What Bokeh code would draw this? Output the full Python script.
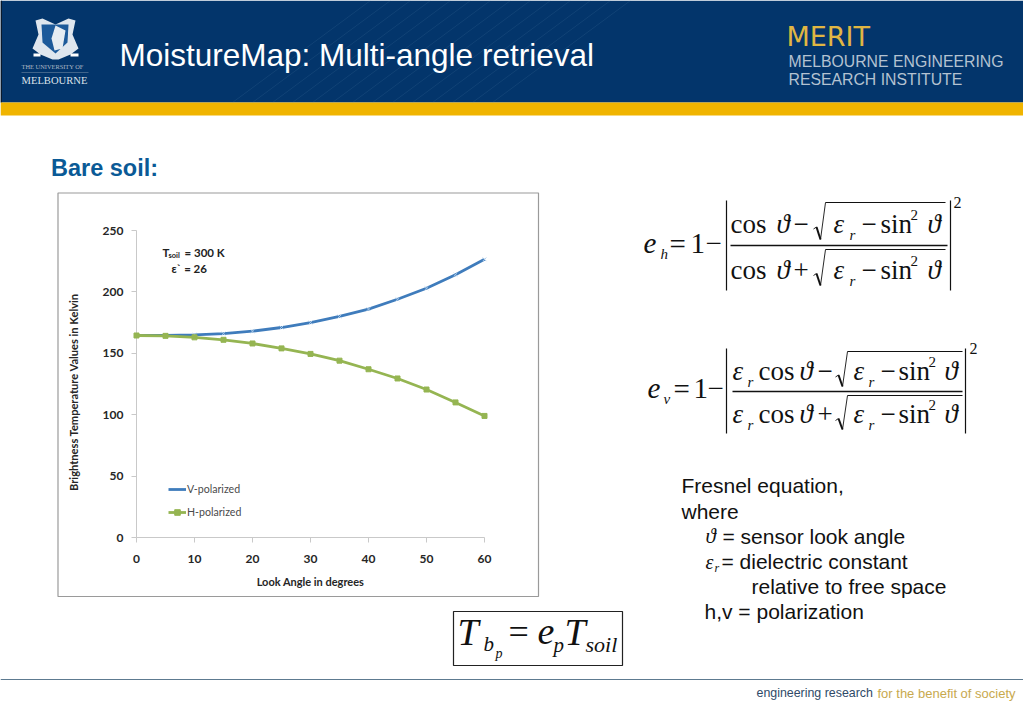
from bokeh.plotting import figure
from bokeh.embed import file_html
from bokeh.resources import INLINE
from bokeh.core.properties import value
from bokeh.models import Label, Range1d, Legend, LegendItem, FixedTicker

angles = [0, 5, 10, 15, 20, 25, 30, 35, 40, 45, 50, 55, 60]
v_pol = [164.5, 164.5, 165, 166, 168, 171, 175, 180, 186, 194, 203, 214, 226.5]
h_pol = [164.5, 164.2, 163, 161, 158, 154, 149.5, 144, 137, 129.5, 120.5, 110, 99]
x_ticks = [0, 10, 20, 30, 40, 50, 60]
y_ticks = [0, 50, 100, 150, 200, 250]
x_title = "Look Angle in degrees"
y_title = "Brightness Temperature Values in Kelvin"
slide_title = "MoistureMap: Multi-angle retrieval"

W, H = 1023, 708
RISE = 0.34   # the page draws text this fraction of its size below the requested line

# ---------- the slide behind the chart: a full-window figure in pixel coordinates
bg = figure(width=W, height=H, output_backend="svg", toolbar_location=None,
            x_range=Range1d(0, W), y_range=Range1d(H, 0), x_axis_type=None, y_axis_type=None,
            min_border=0, background_fill_color="white", border_fill_color="white",
            outline_line_color=None)
bg.grid.visible = False
bg.styles = {"position": "absolute", "left": "0px", "top": "0px"}


def box(x0, y0, x1, y1, fill=None, line=None, lw=1):
    bg.quad(left=[x0], right=[x1], top=[y0], bottom=[y1], fill_color=fill, fill_alpha=1 if fill else 0,
            line_color=line, line_width=lw)


def poly(xs, ys, fill, alpha=1.0):
    bg.patch(xs, ys, fill_color=fill, fill_alpha=alpha, line_color=None)


def seg(x0, y0, x1, y1, w=1.0, color="#111111", alpha=1.0):
    bg.line([x0, x1], [y0, y1], line_color=color, line_width=w, line_alpha=alpha)


def txt(s, x, y, size, color="#111111", font="Liberation Sans", style="normal", angle=0, align="left"):
    yy = y - RISE * size if angle == 0 else y
    bg.text([x], [yy], text=[s], text_font=value(font), text_font_size=value(f"{size}px"),
            text_font_style=style, text_color=color, text_align=align, text_baseline="alphabetic",
            angle=angle)


box(0, 0, W, 102, fill="#03356b")
box(0, 0, 1.5, 102, fill="#0b1a2c")
box(0, 102, W, 115, fill="#f0b400")
for k in range(14):
    seg(232 + k * 20, 102, 370 + k * 20, 0, 1, "#5f86ad", 0.16)
box(0, 678.6, W, 679.6, fill="#5d7a90")

# crest
poly([35, 42, 55, 68, 75, 72, 78, 70, 58, 52, 40, 32, 38],
     [20, 18, 24, 18, 20, 34, 48, 54, 59, 59, 54, 48, 34], "#dfe6ee")
poly([41, 68, 67, 55, 42], [24, 24, 42, 53, 42], "#1d5a9a")
poly([55, 65, 62, 54, 51], [25, 30, 48, 50, 38], "#e6ecf2")
box(33, 53, 40, 56, fill="#ffffff")
box(70, 53, 78, 56, fill="#ffffff")
txt("THE UNIVERSITY OF", 21, 68, 6.4, "#aeb9c6", "Liberation Serif")
box(21, 72, 88, 72.6, fill="#7f93aa")
txt("MELBOURNE", 21, 84, 10.6, "#dbe2ea", "Liberation Serif")

txt(slide_title, 119, 65, 31.5, "#ffffff")
txt("MERIT", 786, 45, 27, "#e0b643", "DejaVu Sans")
txt("MELBOURNE ENGINEERING", 788, 66, 15.8, "#b4c2d1")
txt("RESEARCH INSTITUTE", 788, 84.5, 15.8, "#b4c2d1")

txt("Bare soil:", 50.5, 175, 23.5, "#0a5a96", style="bold")

box(57.5, 192.5, 538, 596, line="#9a9a9a", lw=1.2)
txt(y_title, 73, 490.5, 11.1, "#262626", "Lato", "bold", angle=1.5708)

SERIF = "Liberation Serif"


def sym(s, x, y, size=27, style="normal"):
    txt(s, x, y, size, "#111111", SERIF, style)


def radical(x, top, bottom, xend):
    mid = (top + bottom) / 2 + 6
    seg(x, mid + 2, x + 3, mid, 0.9)
    seg(x + 3, mid, x + 7, bottom, 2)
    seg(x + 7, bottom, x + 12, top, 0.9)
    seg(x + 12, top, xend, top, 1)


# e_h
sym("e", 643, 253, 29, "italic")
sym("h", 660, 259, 15, "italic")
sym("=", 669, 253, 29)
sym("1", 690, 253, 29)
sym("−", 705, 253, 29)
seg(726, 200, 726, 290, 1.2)
seg(950, 200, 950, 290, 1.2)
sym("2", 953, 207, 16)
for base, op, top in ((233, "−", 202), (279, "+", 249)):
    sym("cos", 730, base)
    sym("ϑ", 776, base, 27, "italic")
    sym(op, 793, base)
    radical(813, top, base + 6, 945)
    sym("ε", 833, base, 27, "italic")
    sym("r", 849, base + 7, 15, "italic")
    sym("−", 861, base)
    sym("sin", 880, base)
    sym("2", 910, base - 13, 15)
    sym("ϑ", 927, base, 27, "italic")
seg(730, 245, 947, 245, 1.4)

# e_v
sym("e", 647, 398, 29, "italic")
sym("v", 663, 404, 15, "italic")
sym("=", 673, 398, 29)
sym("1", 693, 398, 29)
sym("−", 707, 398, 29)
seg(726, 348, 726, 433, 1.2)
seg(965, 348, 965, 433, 1.2)
sym("2", 969, 353, 16)
for base, op, top in ((380, "−", 351), (423, "+", 395)):
    sym("ε", 732, base, 27, "italic")
    sym("r", 747, base + 7, 15, "italic")
    sym("cos", 758, base)
    sym("ϑ", 799, base, 27, "italic")
    sym(op, 817, base)
    radical(835, top, base + 6, 962)
    sym("ε", 853, base, 27, "italic")
    sym("r", 868, base + 7, 15, "italic")
    sym("−", 880, base)
    sym("sin", 898, base)
    sym("2", 928, base - 13, 15)
    sym("ϑ", 944, base, 27, "italic")
seg(732, 391, 962, 391, 1.4)

# T_bp box
box(453, 611, 622, 665, line="#222222", lw=1.2)
sym("T", 457, 644, 38, "italic")
sym("b", 483, 651, 21, "italic")
sym("p", 495, 658, 14, "italic")
sym("=", 508, 644, 36)
sym("e", 537, 644, 38, "italic")
sym("p", 553, 652, 21, "italic")
sym("T", 564, 644, 38, "italic")
sym("soil", 585, 651, 22, "italic")

# explanation
txt("Fresnel equation,", 681, 492, 21)
txt("where", 681, 518, 21)
sym("ϑ", 705, 543, 21, "italic")
txt("= sensor look angle", 722, 543, 21)
sym("ε", 705, 568, 20, "italic")
sym("r", 714, 572, 12, "italic")
txt("= dielectric constant", 721, 568, 21)
txt("relative to free space", 751, 593, 21)
txt("h,v = polarization", 704, 618, 21)

# footer
txt("engineering research", 756, 697, 12.4, "#2f4a68")
txt("for the benefit of society", 877, 697, 13, "#c8a94e")

# ---------- the chart, laid over the panel: axes figure, then data figure with room for end markers
CL, CR, CT, CB = 59, 537, 193, 595        # chart canvas on the page
AL, AR, FT, FB = 136, 484, 230, 537       # axes frame on the page
pad = 10                                   # pixels of room left and right of the data frame
DL, DR = AL - pad, AR + pad
unit = pad * 60 / (AR - AL)

ax_fig = figure(width=CR - CL, height=CB - CT, output_backend="svg", toolbar_location=None,
                x_range=Range1d(0, 60), y_range=Range1d(0, 250),
                min_border_left=AL - CL, min_border_right=CR - AR, min_border_top=FT - CT,
                min_border_bottom=CB - FB,
                background_fill_color=None, border_fill_color=None, outline_line_color=None)
ax_fig.styles = {"position": "absolute", "left": f"{CL}px", "top": f"{CT}px"}
ax_fig.grid.visible = False

for ax, ticks in ((ax_fig.xaxis[0], x_ticks), (ax_fig.yaxis[0], y_ticks)):
    ax.ticker = FixedTicker(ticks=ticks)
    ax.axis_line_color = "#c9c9c9"
    ax.major_tick_line_color = "#c9c9c9"
    ax.major_tick_in = 0
    ax.major_tick_out = 5
    ax.minor_tick_line_color = None
    ax.major_label_text_font = "Lato"
    ax.major_label_text_font_style = "bold"
    ax.major_label_text_font_size = "12px"
    ax.major_label_text_color = "#262626"
xa = ax_fig.xaxis[0]
ax_fig.yaxis[0].major_label_standoff = 8
xa.major_label_standoff = 12
xa.axis_label = x_title
xa.axis_label_text_font = "Lato"
xa.axis_label_text_font_style = "bold"
xa.axis_label_text_font_size = "11px"
xa.axis_label_text_color = "#262626"
xa.axis_label_standoff = 9

p = figure(width=CR - CL, height=CB - CT, output_backend="svg", toolbar_location=None,
           x_range=Range1d(-unit, 60 + unit), y_range=Range1d(0, 250),
           x_axis_type=None, y_axis_type=None,
           min_border_left=DL - CL, min_border_right=CR - DR, min_border_top=FT - CT,
           min_border_bottom=CB - FB,
           background_fill_color=None, border_fill_color=None, outline_line_color=None)
p.styles = {"position": "absolute", "left": f"{CL}px", "top": f"{CT}px"}
p.grid.visible = False

blue = "#3f7cbc"
green = "#95b552"
vl = p.line(angles, v_pol, line_color=blue, line_width=2.8)
vm = p.scatter(angles, v_pol, marker="x", size=5, line_color="#a9c9e8", line_width=1)
hl = p.line(angles, h_pol, line_color=green, line_width=2.8)
hm = p.scatter(angles, h_pol, marker="square", size=5, fill_color=green, line_color=green)

leg = Legend(items=[LegendItem(label="V-polarized", renderers=[vl]),
                    LegendItem(label="H-polarized", renderers=[hl, hm])],
             location=(168 - DL, 18), background_fill_alpha=0, border_line_color=None,
             glyph_width=18, glyph_height=14, label_standoff=1, spacing=9, padding=0, margin=0,
             label_text_font="Lato", label_text_font_size="10.6px", label_text_color="#4a4a4a",
             label_height=14)
p.add_layout(leg, "center")


def note(s, x, y, size):
    p.add_layout(Label(x=x - DL, y=FB - y + RISE * size, x_units="screen", y_units="screen", text=s,
                       text_font="Lato", text_font_size=f"{size}px", text_font_style="bold",
                       text_color="#222222", text_baseline="alphabetic"))


note("T", 162, 256, 11.5)
note("soil", 168, 258, 7.5)
note("= 300 K", 184, 256, 11.5)
note("ε` = 26", 171, 272, 11.5)

open("out.html", "w").write(file_html([bg, ax_fig, p], INLINE))
